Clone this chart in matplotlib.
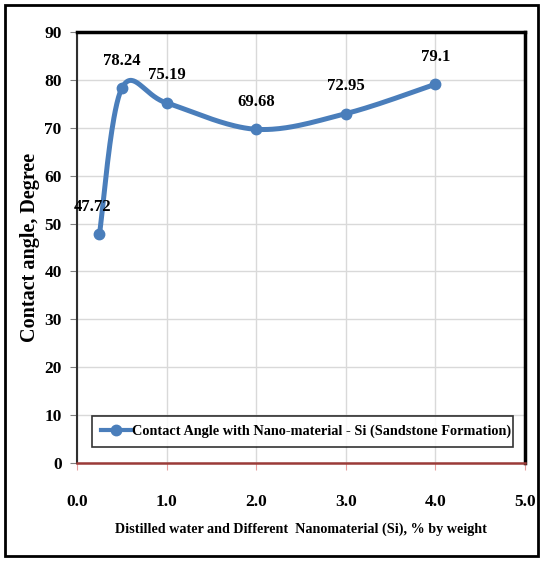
import numpy as np
import matplotlib.pyplot as plt
from matplotlib.patches import Rectangle

# data
x_pct = [0.25, 0.5, 1.0, 2.0, 3.0, 4.0]
angle = [47.72, 78.24, 75.19, 69.68, 72.95, 79.1]
labels = ['47.72', '78.24', '75.19', '69.68', '72.95', '79.1']
x_ticks = [0.0, 1.0, 2.0, 3.0, 4.0, 5.0]
y_ticks = [0, 10, 20, 30, 40, 50, 60, 70, 80, 90]

blue = '#4A7EBB'
plt.rcParams['font.family'] = 'Liberation Serif'
plt.rcParams['font.weight'] = 'bold'


def smooth(xs, ys, sx, sy, n=40):
    # Excel-style smoothed line: cubic Bezier through points, control points from neighbours
    P = np.column_stack([np.array(xs) * sx, np.array(ys) * sy])
    out = [P[:1]]
    for i in range(len(P) - 1):
        p0 = P[i - 1] if i > 0 else P[i]
        p1, p2 = P[i], P[i + 1]
        p3 = P[i + 2] if i + 2 < len(P) else P[i + 1]
        c1 = p1 + (p2 - p0) / 6
        c2 = p2 - (p3 - p1) / 6
        t = np.linspace(0, 1, n)[1:, None]
        seg = (1 - t) ** 3 * p1 + 3 * (1 - t) ** 2 * t * c1 + 3 * (1 - t) * t ** 2 * c2 + t ** 3 * p2
        out.append(seg)
    C = np.vstack(out)
    return C[:, 0] / sx, C[:, 1] / sy


W, H = 541, 561
fig = plt.figure(figsize=(W / 100, H / 100), dpi=100)
fig.patches.append(Rectangle((5 / W, 5 / H), 533 / W, 551 / H, transform=fig.transFigure,
                             fill=False, edgecolor='black', linewidth=2))
ax = fig.add_axes([77 / W, (H - 463) / H, 448 / W, 431 / H])

# pixel scale of axes so smoothing is done in screen space
sx = 448 / 5.0
sy = 431 / 90.0
cx, cy = smooth(x_pct, angle, sx, sy)
ax.plot(cx, cy, color=blue, linewidth=3.6, zorder=3, solid_capstyle='round')
ax.plot(x_pct, angle, linestyle='none', marker='o', markersize=7.5, color=blue, zorder=4,
        label='Contact Angle with Nano-material - Si (Sandstone Formation)')

for xv, yv, lab in zip(x_pct, angle, labels):
    dx = -5 if xv == 0.25 else 0
    ax.annotate(lab, (xv, yv), xytext=(dx, 14), textcoords='offset points',
                ha='center', va='bottom', fontsize=12, fontweight='bold')

ax.set_xlim(0, 5)
ax.set_ylim(0, 90)
ax.set_xticks(x_ticks)
ax.set_xticklabels(['%.1f' % v for v in x_ticks])
ax.set_yticks(y_ticks)
ax.grid(True, color='#D9D9D9', linewidth=1)
ax.set_axisbelow(True)

ax.spines['top'].set_linewidth(2.5)
ax.spines['right'].set_linewidth(2.5)
ax.spines['left'].set_color('#303030')
ax.spines['left'].set_linewidth(1.5)
ax.spines['bottom'].set_color('#9B3B38')
ax.spines['bottom'].set_linewidth(1.8)
ax.tick_params(axis='x', colors='#E6A0A0', length=5, pad=17, labelsize=12.5, labelcolor='black')
ax.tick_params(axis='y', colors='#808080', length=5, pad=6, labelsize=12.5, labelcolor='black')
for t in ax.get_xticklabels() + ax.get_yticklabels():
    t.set_fontweight('bold')

ax.set_xlabel('Distilled water and Different  Nanomaterial (Si), % by weight',
              fontsize=10.2, fontweight='bold', labelpad=9)
ax.set_ylabel('Contact angle, Degree', fontsize=14.5, fontweight='bold', labelpad=3)

leg = ax.legend(loc='lower left', bbox_to_anchor=(92 / W, (H - 447) / H, 421 / W, 37 / H),
                bbox_transform=fig.transFigure, mode='expand', borderaxespad=0,
                fontsize=10.3, frameon=True, fancybox=False, edgecolor='black',
                handlelength=2.1, handletextpad=0.1, borderpad=0.6)
leg.get_frame().set_linewidth(1.2)
leg.legend_handles[0].set_linestyle('-')
leg.legend_handles[0].set_linewidth(3)

fig.savefig('out.png', dpi=100)
